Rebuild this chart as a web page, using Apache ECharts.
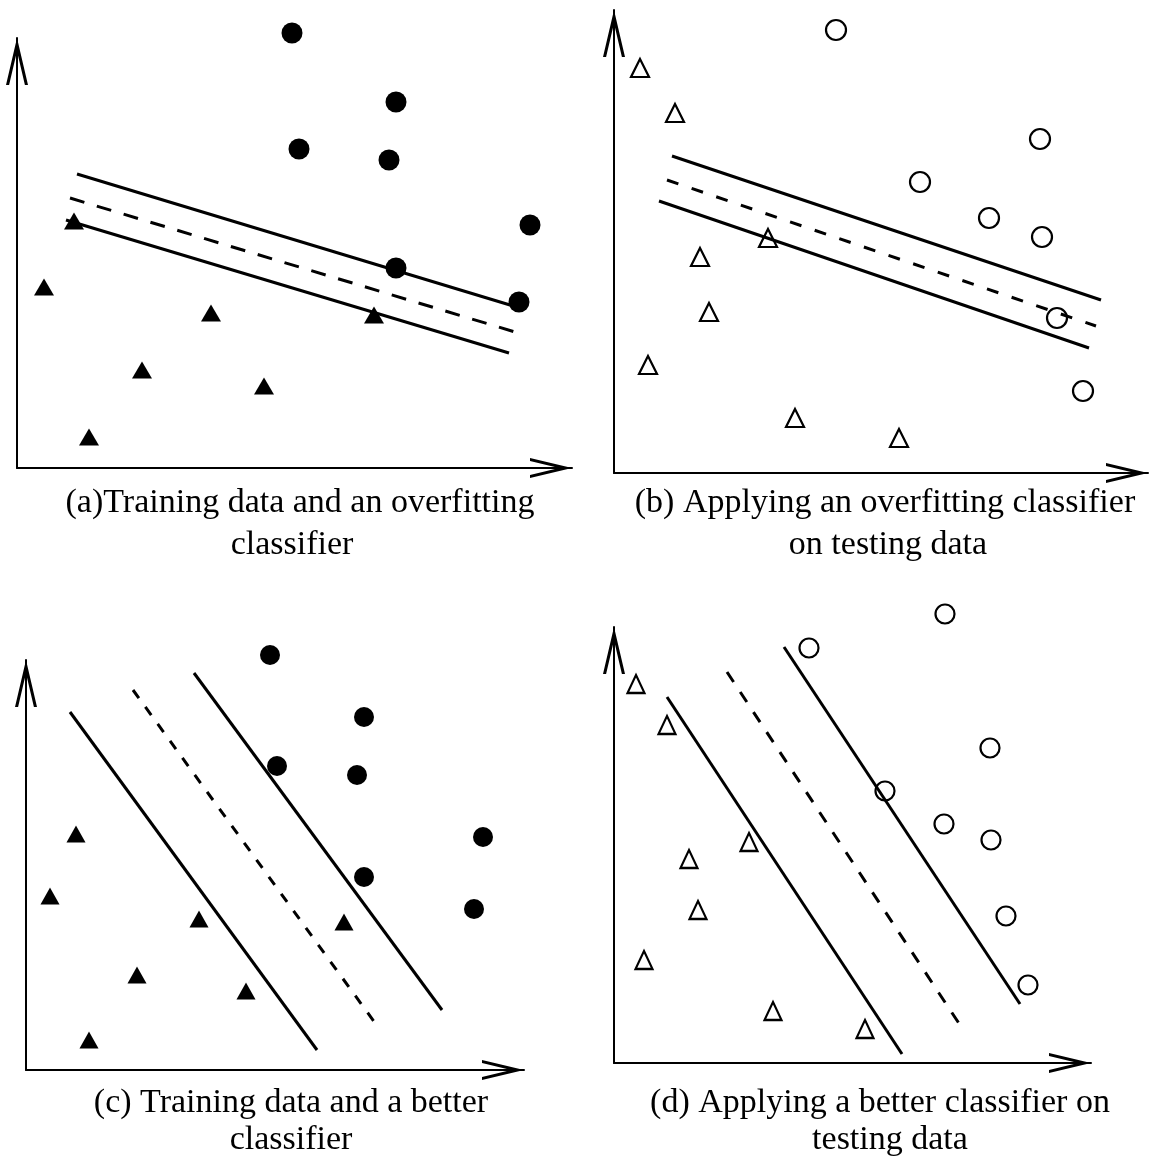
<!DOCTYPE html>
<html>
<head>
<meta charset="utf-8">
<script src="https://cdn.jsdelivr.net/npm/echarts@6/dist/echarts.min.js"></script>
<style>
  html, body { margin: 0; padding: 0; background: #fff; }
  #chart { width: 1150px; height: 1157px; }
</style>
</head>
<body>
<div id="chart"></div>
<script>
// (a) training data, overfitting classifier
var aCircles = [[275, 435], [379, 366], [282, 319], [372, 308], [513, 243], [379, 200], [502, 166]];
var aTriangles = [[57, 247], [27, 181], [194, 155], [357, 153], [125, 98], [247, 82], [72, 31]];
var aLineTop = [[60, 294], [493, 163]];
var aLineMid = [[53, 270], [498, 136]];
var aLineBot = [[49, 248], [492, 115]];

// (b) testing data, overfitting classifier
var bCircles = [[222, 443], [426, 334], [306, 291], [375, 255], [428, 236], [443, 155], [469, 82]];
var bTriangles = [[26, 405], [61, 360], [154, 235], [86, 216], [95, 161], [34, 108], [181, 55], [285, 35]];
var bLineTop = [[58, 317], [487, 173]];
var bLineMid = [[53, 293], [482, 147]];
var bLineBot = [[45, 272], [475, 125]];

// (c) training data, better classifier
var cCircles = [[244, 415], [338, 353], [251, 304], [331, 295], [457, 233], [338, 193], [448, 161]];
var cTriangles = [[50, 236], [24, 174], [173, 151], [318, 148], [111, 95], [220, 79], [63, 30]];
var cLineTop = [[168, 397], [416, 60]];
var cLineMid = [[107, 380], [352, 43]];
var cLineBot = [[44, 358], [291, 20]];

// (d) testing data, better classifier
var dCircles = [[331, 449], [195, 415], [376, 315], [271, 272], [330, 239], [377, 223], [392, 147], [414, 78]];
var dTriangles = [[22, 379], [53, 338], [135, 221], [75, 204], [84, 153], [30, 103], [159, 52], [251, 34]];
var dLineTop = [[170, 416], [406, 59]];
var dLineMid = [[113, 391], [348, 35]];
var dLineBot = [[53, 366], [288, 9]];

var captions = [
  ['(a)Training data and an overfitting', 'classifier'],
  ['(b) Applying an overfitting classifier', 'on testing data'],
  ['(c) Training data and a better', 'classifier'],
  ['(d) Applying a better classifier on', 'testing data']
];

var panels = [
  {grid: {left: 17, top: 38, width: 555, height: 430}, circles: aCircles, triangles: aTriangles,
   lines: [aLineTop, aLineMid, aLineBot], filled: true, dot: 21, tri: [20, 17], dash: [15, 13],
   cap: [[300, 503], [292, 545]]},
  {grid: {left: 614, top: 10, width: 534, height: 463}, circles: bCircles, triangles: bTriangles,
   lines: [bLineTop, bLineMid, bLineBot], filled: false, dot: 20, tri: [18, 18], dash: [12, 14],
   cap: [[885, 503], [888, 545]]},
  {grid: {left: 26, top: 660, width: 498, height: 410}, circles: cCircles, triangles: cTriangles,
   lines: [cLineTop, cLineMid, cLineBot], filled: true, dot: 20, tri: [19, 17], dash: [10, 11],
   cap: [[291, 1103], [291, 1140]]},
  {grid: {left: 614, top: 627, width: 477, height: 436}, circles: dCircles, triangles: dTriangles,
   lines: [dLineTop, dLineMid, dLineBot], filled: false, dot: 19, tri: [17, 18], dash: [12, 12],
   cap: [[880, 1103], [890, 1140]]}
];

// open chevron arrow head, tip up
function chevron(w, h, t) {
  var ang = Math.atan((w / 2) / h);
  var inner = t / Math.sin(ang);
  var tw = t / Math.cos(ang);
  return 'path://M' + (w / 2) + ' 0L' + w + ' ' + h + 'L' + (w - tw) + ' ' + h +
    'L' + (w / 2) + ' ' + inner + 'L' + tw + ' ' + h + 'L0 ' + h + 'Z';
}

var grids = [], xAxes = [], yAxes = [], series = [], texts = [];

panels.forEach(function (p, i) {
  grids.push(Object.assign({outerBoundsMode: 'none'}, p.grid));
  xAxes.push({
    type: 'value', gridIndex: i, min: 0, max: p.grid.width,
    axisLine: {show: true, lineStyle: {color: '#000', width: 2},
      symbol: ['none', chevron(20, 42, 3)], symbolSize: [20, 42], symbolOffset: [0, -21]},
    axisTick: {show: false}, axisLabel: {show: false}, splitLine: {show: false}
  });
  yAxes.push({
    type: 'value', gridIndex: i, min: 0, max: p.grid.height,
    axisLine: {show: true, lineStyle: {color: '#000', width: 2},
      symbol: ['none', chevron(22, 47, 3)], symbolSize: [22, 47], symbolOffset: [0, -23.5]},
    axisTick: {show: false}, axisLabel: {show: false}, splitLine: {show: false}
  });

  p.lines.forEach(function (ln, k) {
    series.push({
      type: 'line', xAxisIndex: i, yAxisIndex: i, data: ln, symbol: 'none', clip: false,
      silent: true,
      lineStyle: {color: '#000', width: 3, type: k === 1 ? p.dash : 'solid'}
    });
  });

  var style = p.filled
    ? {color: '#000', opacity: 1}
    : {color: '#fff', borderColor: '#000', borderWidth: 2.2, opacity: 1};
  series.push({
    type: 'scatter', xAxisIndex: i, yAxisIndex: i, data: p.circles, clip: false,
    symbol: 'circle', symbolSize: p.dot, itemStyle: style
  });
  series.push({
    type: 'scatter', xAxisIndex: i, yAxisIndex: i, data: p.triangles, clip: false,
    symbol: 'triangle', symbolSize: p.tri, itemStyle: style
  });

  captions[i].forEach(function (line, k) {
    texts.push({
      type: 'text', x: p.cap[k][0], y: p.cap[k][1],
      style: {text: line, fill: '#000', fontSize: 34, fontFamily: '"Liberation Serif", "DejaVu Serif", serif',
        align: 'center', verticalAlign: 'middle'}
    });
  });
});

var chart = echarts.init(document.getElementById('chart'));
chart.setOption({
  backgroundColor: '#fff',
  animation: false,
  grid: grids,
  xAxis: xAxes,
  yAxis: yAxes,
  series: series,
  graphic: texts
});
</script>
</body>
</html>
